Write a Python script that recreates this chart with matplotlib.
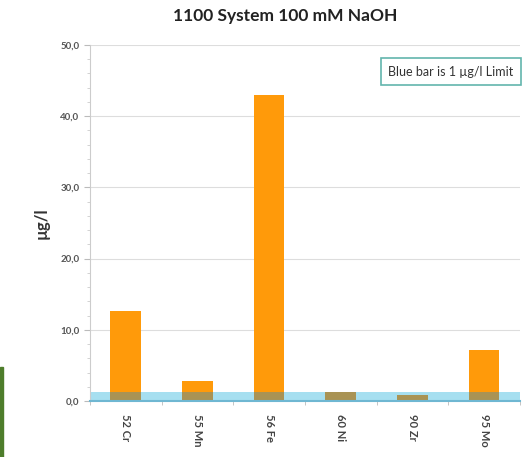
import numpy as np
import matplotlib.pyplot as plt
from matplotlib.patches import Rectangle

# datos
elementos = ['52 Cr', '55 Mn', '56 Fe', '60 Ni', '90 Zr', '95 Mo']
valores = [12.7, 2.8, 43.0, 1.3, 0.9, 7.1]
limite = 1.2
yticks = [0, 10, 20, 30, 40, 50]

plt.rcParams['font.family'] = ['Lato', 'DejaVu Sans']

fig = plt.figure(figsize=(5.23, 4.57), dpi=100)
ax = fig.add_axes([0.172, 0.1225, 0.822, 0.779])

x = np.arange(len(elementos))
v = np.array(valores)
ancho = 0.43

# banda azul del limite
ax.bar(x, [limite] * len(x), width=1.0, color='#a6dff0', zorder=1)
# barras naranjas por encima del limite y parte oliva solapada
ax.bar(x, np.clip(v - limite, 0, None), width=ancho, bottom=limite, color='#ff9a0a', zorder=2)
ax.bar(x, np.minimum(v, limite), width=ancho, color='#a99354', zorder=2)

ax.set_xlim(-0.5, len(x) - 0.5)
ax.set_ylim(0, 50)
ax.set_yticks(yticks)
ax.set_yticklabels([f'{t:.1f}'.replace('.', ',') for t in yticks], fontsize=7, color='#555555', fontweight='bold')
ax.set_yticks(np.arange(0, 50.1, 2), minor=True)
ax.grid(axis='y', color='#dddddd', linewidth=0.8, zorder=0)
ax.set_axisbelow(True)

ax.set_xticks(x)
ax.set_xticklabels(elementos, rotation=-90, fontsize=8, color='#444444', fontweight='bold')
ax.set_xticks(np.arange(-0.5, len(x), 1), minor=True)
ax.tick_params(axis='x', which='major', length=0, pad=9)
ax.tick_params(axis='x', which='minor', length=3, color='#bbbbbb')
ax.tick_params(axis='y', which='major', length=4, color='#bbbbbb')
ax.tick_params(axis='y', which='minor', length=2, color='#cccccc')

for s in ['top', 'right']:
    ax.spines[s].set_visible(False)
ax.spines['left'].set_color('#cccccc')
ax.spines['bottom'].set_color('#6fb7d2')
ax.spines['bottom'].set_linewidth(1.5)

ax.set_ylabel('µg/l', fontsize=12, fontweight='bold', color='#333333', labelpad=8)
fig.text(0.545, 0.965, '1100 System 100 mM NaOH', ha='center', va='center',
         fontsize=12.5, fontweight='bold', color='#222222')

ax.text(0.985, 0.925, 'Blue bar is 1 µg/l Limit', transform=ax.transAxes, ha='right', va='center',
        fontsize=9, color='#333333',
        bbox=dict(boxstyle='square,pad=0.6', facecolor='white', edgecolor='#62b5ad', linewidth=1.2))

# barra verde en el borde
fig.patches.append(Rectangle((0, 0), 0.006, 0.197, transform=fig.transFigure, color='#4e7d2b'))

plt.savefig('out.png', dpi=100)
